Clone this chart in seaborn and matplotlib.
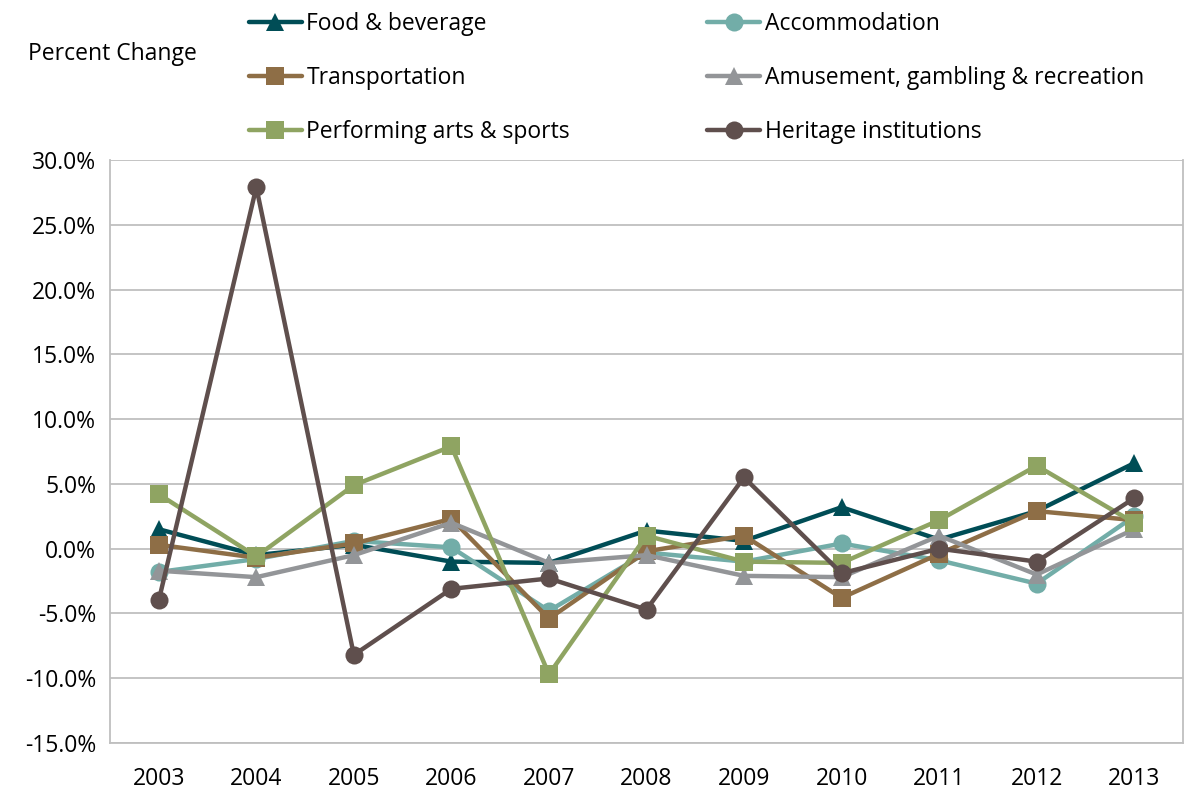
import pandas as pd
import numpy as np
import matplotlib
matplotlib.use('Agg')
import matplotlib.pyplot as plt
import seaborn as sns
from matplotlib.ticker import FuncFormatter

years = [2003, 2004, 2005, 2006, 2007, 2008, 2009, 2010, 2011, 2012, 2013]

food = [1.5, -0.5, 0.3, -1.0, -1.1, 1.4, 0.6, 3.2, 0.7, 2.9, 6.6]
accommodation = [-1.8, -0.8, 0.6, 0.1, -4.8, -0.3, -1.0, 0.4, -0.9, -2.7, 2.5]
transportation = [0.3, -0.7, 0.4, 2.3, -5.4, -0.2, 1.0, -3.8, -0.4, 2.9, 2.2]
amusement = [-1.7, -2.2, -0.5, 2.0, -1.1, -0.5, -2.1, -2.2, 1.0, -2.0, 1.5]
performing = [4.2, -0.6, 4.9, 7.9, -9.7, 1.0, -1.0, -1.1, 2.2, 6.4, 2.0]
heritage = [-4.0, 27.9, -8.2, -3.1, -2.3, -4.7, 5.5, -1.9, 0.0, -1.0, 3.9]

series = {
    'Food & beverage': food,
    'Accommodation': accommodation,
    'Transportation': transportation,
    'Amusement, gambling & recreation': amusement,
    'Performing arts & sports': performing,
    'Heritage institutions': heritage,
}

colors = {
    'Food & beverage': '#004D56',
    'Accommodation': '#72ADA8',
    'Transportation': '#8E6E46',
    'Amusement, gambling & recreation': '#939598',
    'Performing arts & sports': '#8FA462',
    'Heritage institutions': '#5F4F4D',
}
markers = {
    'Food & beverage': '^',
    'Accommodation': 'o',
    'Transportation': 's',
    'Amusement, gambling & recreation': '^',
    'Performing arts & sports': 's',
    'Heritage institutions': 'o',
}

rows = []
for name, vals in series.items():
    for yr, v in zip(years, vals):
        rows.append({'Year': yr, 'Value': v, 'Series': name})
df = pd.DataFrame(rows)

sns.set_style('white')
plt.rcParams['font.family'] = ['Open Sans', 'DejaVu Sans']
plt.rcParams['text.color'] = 'black'
plt.rcParams['xtick.color'] = 'black'
plt.rcParams['ytick.color'] = 'black'
FS = 16.5

fig = plt.figure(figsize=(11.85, 7.91), dpi=100)
ax = fig.add_axes([110 / 1185, 1 - 743 / 791, 1073 / 1185, 583 / 791])

sns.lineplot(data=df, x='Year', y='Value', hue='Series', style='Series',
             palette=colors, markers=markers, dashes=False, linewidth=3.2,
             markersize=13, markeredgewidth=0, ax=ax, legend=False)

ax.set_xlim(2002.5, 2013.5)
ax.set_ylim(-15, 30)
ax.set_yticks(np.arange(-15, 31, 5))
ax.set_xticks(years)
ax.yaxis.set_major_formatter(FuncFormatter(lambda v, p: f'{v:.1f}%'))
ax.grid(axis='y', color='#BFBFBF', linewidth=1.3)
ax.set_axisbelow(True)
ax.set_xlabel('')
ax.set_ylabel('')
for s in ax.spines.values():
    s.set_color('#BFBFBF')
    s.set_linewidth(1.3)
ax.spines['top'].set_visible(False)
ax.tick_params(axis='both', labelsize=FS, length=0)
ax.tick_params(axis='x', pad=17)
ax.tick_params(axis='y', pad=10)

# legend: fills column-wise in matplotlib, so reorder
order = ['Food & beverage', 'Transportation', 'Performing arts & sports',
         'Accommodation', 'Amusement, gambling & recreation', 'Heritage institutions']
handles = [plt.Line2D([], [], color=colors[n], marker=markers[n], linewidth=3.2,
                      markersize=13, markeredgewidth=0) for n in order]
fig.legend(handles, order, loc='upper left', bbox_to_anchor=(249 / 1185, 1 - 12 / 791),
           ncol=2, frameon=False, fontsize=FS, handlelength=2.3, handletextpad=0.2,
           columnspacing=6.0, labelspacing=1.32, borderpad=0, borderaxespad=0)

fig.text(28 / 1185, 1 - 54 / 791, 'Percent Change', fontsize=FS, va='center', ha='left')

fig.savefig('out.png', dpi=100)
